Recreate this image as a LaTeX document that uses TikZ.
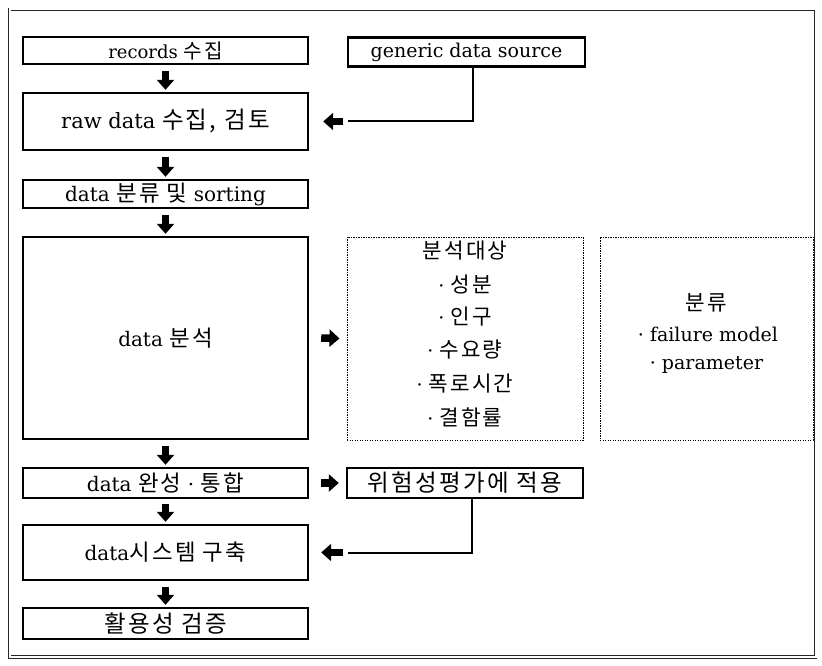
\documentclass[tikz,border=0pt]{standalone}
\usepackage{fontspec}
\setmainfont{DejaVu Serif}
\newfontfamily\kr{Noto Sans CJK KR}[Scale=1.12, LetterSpace=10]
\usetikzlibrary{arrows.meta}
\tikzset{
  box/.style={draw, line width=2.4pt, minimum width=285pt, inner sep=0pt, font=\fontsize{20}{24}\selectfont},
  dotbox/.style={draw, line width=1pt, dash pattern=on 1.2pt off 1.3pt, inner sep=0pt},
  itemtxt/.style={inner sep=0pt, font=\fontsize{19}{23}\selectfont},
  conn/.style={line width=2pt},
  blockarrow/.style={line width=7.5pt, -{Triangle[length=10pt,width=17pt]}},
  frame/.style={line width=0.9pt, double distance=2pt, draw=black!85}
}
\begin{document}
\begin{tikzpicture}[x=1pt,y=-1pt]
\useasboundingbox (0,0) rectangle (822,666);
\draw[frame] (9.5,9.5) rectangle (815.5,657);

% left column
\node[box, minimum height=27pt, font=\fontsize{18}{22}\selectfont] (rec) at (165.5,50.5) {records {\kr 수집}};
\node[box, minimum width=237pt, minimum height=29pt, font=\fontsize{19}{23}\selectfont] (gen) at (466.5,52) {generic data source};
\node[box, minimum height=57pt, font=\fontsize{21}{25}\selectfont] (raw) at (165.5,121.5) {raw data {\kr 수집, 검토}};
\node[box, minimum height=28pt] (sort) at (165.5,194) {data {\kr 분류 및} sorting};
\node[box, minimum height=202pt] (ana) at (165.5,338) {data {\kr 분석}};
\node[box, minimum height=30pt] (comp) at (165.5,483) {data {\kr 완성} · {\kr 통합}};
\node[box, minimum width=236pt, minimum height=30pt, font=\fontsize{21}{25}\selectfont] (risk) at (465,483) {\kr 위험성평가에 적용};
\node[box, minimum height=55pt] (sys) at (165.5,552.5) {data{\kr 시스템 구축}};
\node[box, minimum height=31pt, font=\fontsize{21}{25}\selectfont] (val) at (165.5,623.5) {\kr 활용성 검증};

% dotted boxes
\node[dotbox, minimum width=236pt, minimum height=203pt] (tgt) at (465,338.5) {};
\node[dotbox, minimum width=213pt, minimum height=203pt] (cls) at (706.5,338.5) {};

\node[itemtxt] (t0) at (465,251) {\kr 분석대상};
\node[itemtxt] (t1) at (465,285) {· {\kr 성분}};
\node[itemtxt] (t2) at (465,317) {· {\kr 인구}};
\node[itemtxt] (t3) at (465,350) {· {\kr 수요량}};
\node[itemtxt] (t4) at (465,384) {· {\kr 폭로시간}};
\node[itemtxt] (t5) at (465,417) {· {\kr 결함률}};

\node[itemtxt] (c0) at (706.5,303) {\kr 분류};
\node[itemtxt] (c1) at (708,334) {· failure model};
\node[itemtxt] (c2) at (706.5,365) {· parameter};

% down arrows
\draw[blockarrow] ([yshift=-6pt]rec.south) -- ([yshift=2pt]raw.north);
\draw[blockarrow] ([yshift=-6pt]raw.south) -- ([yshift=2pt]sort.north);
\draw[blockarrow] ([yshift=-6pt]sort.south) -- ([yshift=2pt]ana.north);
\draw[blockarrow] ([yshift=-6pt]ana.south) -- ([yshift=2pt]comp.north);
\draw[blockarrow] ([yshift=-5pt]comp.south) -- ([yshift=2pt]sys.north);
\draw[blockarrow] ([yshift=-6pt]sys.south) -- ([yshift=2pt]val.north);

% right arrows
\draw[blockarrow] ([xshift=12pt]ana.east) -- ([xshift=-7pt]tgt.west);
\draw[blockarrow] ([xshift=12pt]comp.east) -- ([xshift=-7pt]risk.west);

% feedback connectors
\coordinate (g1) at ([xshift=39pt]raw.east);
\draw[conn] ([xshift=6.5pt]gen.south) |- (g1);
\draw[blockarrow] ([xshift=34pt]raw.east) -- ([xshift=14pt]raw.east);
\coordinate (r1) at ([xshift=39pt]sys.east);
\draw[conn] ([xshift=7pt]risk.south) |- (r1);
\draw[blockarrow] ([xshift=34pt]sys.east) -- ([xshift=12pt]sys.east);
\end{tikzpicture}
\end{document}
